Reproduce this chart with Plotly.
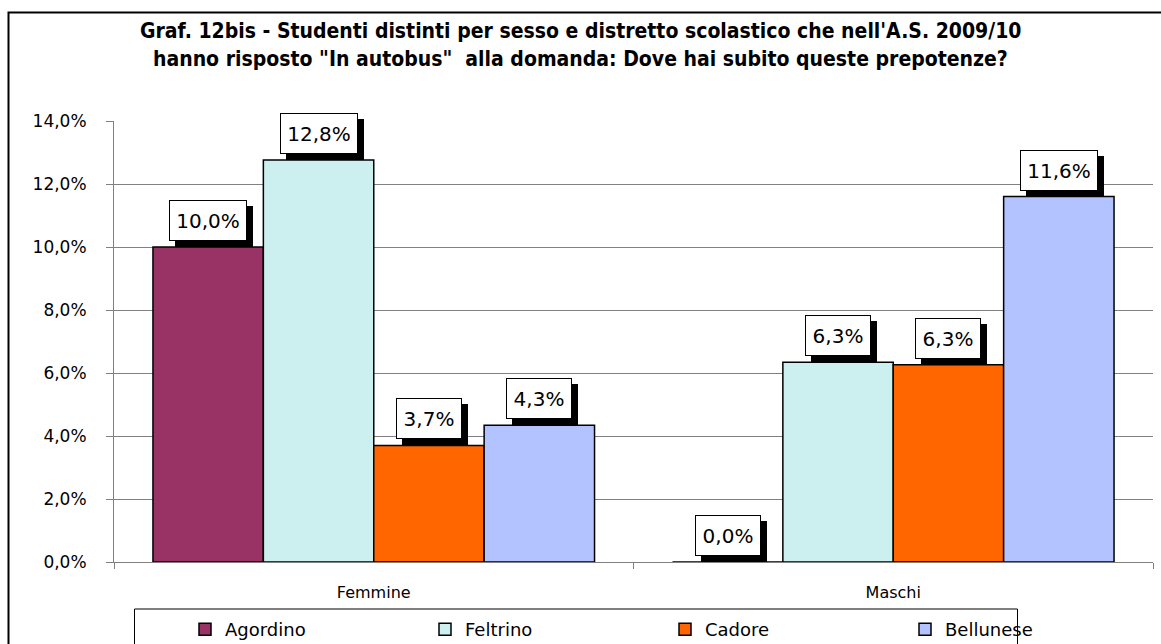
import plotly.graph_objects as go

categories = ["Femmine", "Maschi"]
series_names = ["Agordino", "Feltrino", "Cadore", "Bellunese"]
agordino = [10.0, 0.0]
feltrino = [12.76, 6.34]
cadore = [3.7, 6.26]
bellunese = [4.34, 11.6]
series_values = [agordino, feltrino, cadore, bellunese]
colors = ["#993366", "#CCF0F0", "#FF6600", "#B3C3FF"]
y_ticks = [0, 2, 4, 6, 8, 10, 12, 14]
y_ticktext = [f"{t:.1f}".replace(".", ",") + "%" for t in y_ticks]

title_line1 = "Graf. 12bis - Studenti distinti per sesso e distretto scolastico che nell'A.S. 2009/10"
title_line2 = "hanno risposto \"In autobus\"  alla domanda: Dove hai subito queste prepotenze?"

BARGAP = 0.15
FONT = "DejaVu Sans"
W, H = 1161, 644
ML, MR, MT, MB = 114, 8, 121, 82
pw, ph = W - ML - MR, H - MT - MB


def px_x(p):
    return (p - ML) / pw


def px_y(p):
    return (H - MB - p) / ph


fig = go.Figure()
for name, vals, col in zip(series_names, series_values, colors):
    fig.add_trace(go.Bar(
        name=name, x=categories, y=vals,
        marker=dict(color=col, line=dict(color="black", width=1.5)),
    ))

# data labels: white box with black drop shadow
n = len(series_names)
bw = (1 - BARGAP) / n
annotations = []
for j, vals in enumerate(series_values):
    for ci, v in enumerate(vals):
        xpos = ci + (j - (n - 1) / 2) * bw
        txt = f"{v:.1f}".replace(".", ",") + "%"
        boxw = 62 if len(txt) >= 5 else 50
        annotations.append(dict(
            x=xpos, y=v, xref="x", yref="y", text=" ", showarrow=False,
            yanchor="bottom", xanchor="center", xshift=6, yshift=0,
            width=boxw, height=25,
            font=dict(family=FONT, size=20, color="black"),
            bgcolor="black", bordercolor="black", borderwidth=1, borderpad=7,
        ))
        annotations.append(dict(
            x=xpos, y=v, xref="x", yref="y", text=txt, showarrow=False,
            yanchor="bottom", xanchor="center", xshift=0, yshift=6,
            width=boxw, height=25,
            font=dict(family=FONT, size=20, color="black"),
            bgcolor="white", bordercolor="black", borderwidth=1, borderpad=7,
        ))

for line, ypx in ((title_line1, 31), (title_line2, 59)):
    annotations.append(dict(
        x=px_x(W / 2), y=px_y(ypx), xref="paper", yref="paper", text="<b>" + line + "</b>",
        showarrow=False, font=dict(family="DejaVu Sans Condensed", size=21, color="black"),
        xanchor="center", yanchor="middle"))

shapes = [
    dict(type="rect", xref="paper", yref="paper",
         x0=px_x(8.5), x1=px_x(1175), y0=px_y(670), y1=px_y(12.5),
         line=dict(color="black", width=2), fillcolor="rgba(0,0,0,0)", layer="below"),
    dict(type="rect", xref="paper", yref="paper",
         x0=px_x(134.5), x1=px_x(1017.5), y0=px_y(670), y1=px_y(609),
         line=dict(color="black", width=1), fillcolor="rgba(0,0,0,0)", layer="below"),
]

fig.update_layout(
    width=W, height=H,
    margin=dict(l=ML, r=MR, t=MT, b=MB, pad=0, autoexpand=False),
    paper_bgcolor="white", plot_bgcolor="white",
    barmode="group", bargap=BARGAP, bargroupgap=0,
    separators=",.",
    font=dict(family=FONT, size=16, color="black"),
    showlegend=True,
    legend=dict(
        orientation="h", xref="container", yref="container",
        x=140 / W, y=1 - 611 / H, xanchor="left", yanchor="top",
        entrywidth=150, entrywidthmode="pixels", indentation=45,
        font=dict(family=FONT, size=18, color="black"),
        bgcolor="rgba(0,0,0,0)", borderwidth=0, traceorder="normal",
    ),
    xaxis=dict(
        type="category", showline=True, linecolor="#808080", linewidth=1,
        ticks="outside", ticklen=6, tickcolor="#808080", tickson="boundaries",
        tickfont=dict(family=FONT, size=16), ticklabelstandoff=16,
        showgrid=False, range=[-0.5, 1.5],
    ),
    yaxis=dict(
        range=[0, 14], tickvals=y_ticks, ticktext=y_ticktext,
        showline=True, linecolor="#808080", linewidth=1,
        ticks="outside", ticklen=7, tickcolor="#808080",
        showgrid=True, gridcolor="#808080", gridwidth=1, zeroline=False,
        tickfont=dict(family=FONT, size=17), ticklabelstandoff=16,
    ),
    annotations=annotations,
    shapes=shapes,
)

fig.write_html("out.html")
